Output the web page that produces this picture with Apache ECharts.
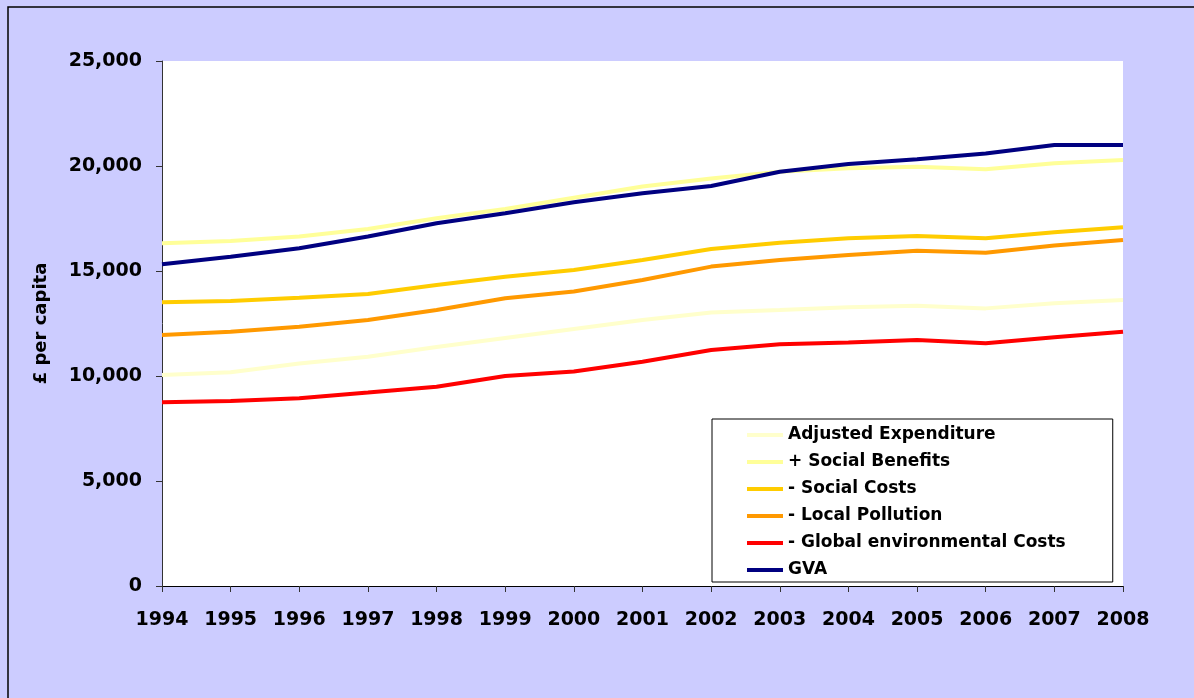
<!DOCTYPE html>
<html>
<head>
<meta charset="utf-8">
<script src="https://cdn.jsdelivr.net/npm/echarts@6/dist/echarts.min.js"></script>
<style>
  html, body { margin: 0; padding: 0; background: #ccccff; }
  #chart { width: 1194px; height: 698px; }
</style>
</head>
<body>
<div id="chart"></div>
<script>
const years = ['1994','1995','1996','1997','1998','1999','2000','2001','2002','2003','2004','2005','2006','2007','2008'];

const adjustedExpenditure = [10050, 10180, 10600, 10920, 11380, 11810, 12240, 12670, 13020, 13140, 13270, 13350, 13220, 13460, 13620];
const socialBenefits      = [16320, 16430, 16640, 17000, 17510, 17950, 18490, 19020, 19410, 19730, 19890, 19970, 19840, 20130, 20290];
const socialCosts         = [13510, 13570, 13730, 13900, 14330, 14730, 15050, 15520, 16050, 16350, 16560, 16670, 16560, 16840, 17080];
const localPollution      = [11950, 12110, 12350, 12670, 13140, 13700, 14020, 14570, 15210, 15520, 15760, 15970, 15870, 16210, 16480];
const globalCosts         = [8750, 8810, 8940, 9210, 9490, 10000, 10210, 10680, 11240, 11510, 11590, 11710, 11560, 11840, 12110];
const gva                 = [15320, 15680, 16080, 16640, 17270, 17750, 18270, 18700, 19050, 19730, 20100, 20320, 20600, 21000, 21000];

const yTicks = [0, 5000, 10000, 15000, 20000, 25000];

// DejaVu is wider than Arial, closer to the spaced-out Excel text
const font = '"DejaVu Sans", Arial, sans-serif';

function line(name, data, color) {
    return {
        name: name,
        type: 'line',
        data: data,
        showSymbol: false,
        symbol: 'none',
        lineStyle: { width: 4, color: color },
        itemStyle: { color: color },
        emphasis: { disabled: true }
    };
}

const chart = echarts.init(document.getElementById('chart'));
chart.setOption({
    backgroundColor: '#ccccff',
    animation: false,
    graphic: [{
        type: 'rect',
        z: -10,
        shape: { x: 8, y: 7, width: 1200, height: 700 },
        style: { fill: '#ccccff', stroke: '#000000', lineWidth: 1.5 }
    }],
    grid: {
        left: 162, right: 71, top: 61, bottom: 112,
        show: true, backgroundColor: '#ffffff', borderWidth: 0
    },
    legend: {
        orient: 'vertical',
        left: 712, top: 419,
        padding: [7, 47, 3, 35],
        backgroundColor: '#ffffff',
        borderColor: '#000000',
        borderWidth: 1,
        icon: 'rect',
        itemWidth: 36,
        itemHeight: 4,
        itemGap: 9,
        textStyle: { fontFamily: font, fontWeight: 'bold', fontSize: 17, color: '#000', lineHeight: 18 }
    },
    xAxis: {
        type: 'category',
        data: years,
        boundaryGap: false,
        axisLine: { lineStyle: { color: '#000', width: 1 } },
        axisTick: { length: 6, interval: 0, lineStyle: { color: '#333' } },
        axisLabel: { interval: 0, fontFamily: font, fontWeight: 'bold', fontSize: 19, color: '#000', margin: 25 }
    },
    yAxis: {
        type: 'value',
        min: yTicks[0], max: yTicks[yTicks.length - 1], interval: 5000,
        name: '£ per capita',
        nameLocation: 'middle',
        nameGap: 112,
        nameRotate: 90,
        nameTextStyle: { fontFamily: font, fontWeight: 'bold', fontSize: 18, color: '#000' },
        splitLine: { show: false },
        axisLine: { show: true, lineStyle: { color: '#333', width: 1 } },
        axisTick: { show: true, length: 6, lineStyle: { color: '#333' } },
        axisLabel: {
            fontFamily: font, fontWeight: 'bold', fontSize: 19, color: '#000', margin: 20,
            formatter: v => v.toLocaleString('en-US')
        }
    },
    series: [
        line('Adjusted Expenditure', adjustedExpenditure, '#ffffcc'),
        line('+ Social Benefits', socialBenefits, '#ffff99'),
        line('- Social Costs', socialCosts, '#ffcc00'),
        line('- Local Pollution', localPollution, '#ff9900'),
        line('- Global environmental Costs', globalCosts, '#ff0000'),
        line('GVA', gva, '#000080')
    ]
});
</script>
</body>
</html>
